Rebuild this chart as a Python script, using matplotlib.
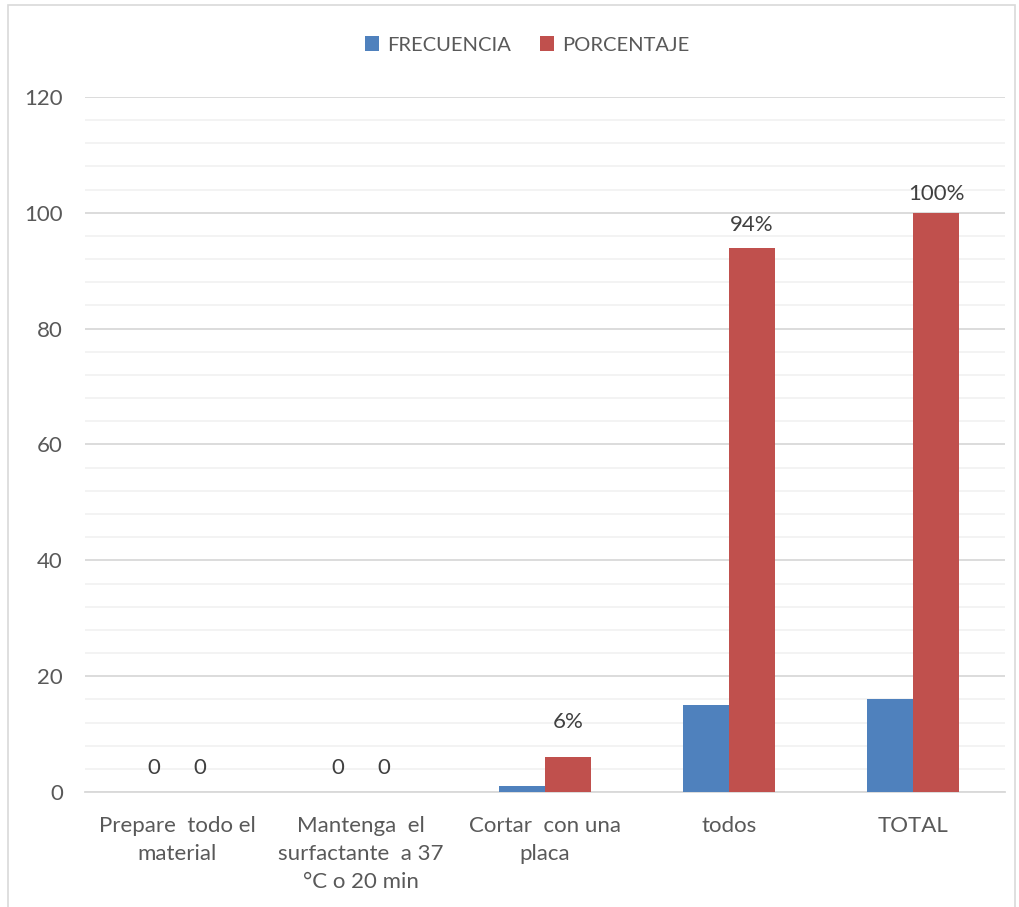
import matplotlib
matplotlib.use("Agg")
import matplotlib.pyplot as plt
from matplotlib.patches import Rectangle
from matplotlib.ticker import MultipleLocator

categories = ["Prepare  todo el\nmaterial",
              "Mantenga  el\nsurfactante  a 37\n°C o 20 min",
              "Cortar  con una\nplaca",
              "todos",
              "TOTAL"]
frecuencia = [0, 0, 1, 15, 16]
porcentaje = [0, 0, 6, 94, 100]
# labels shown above the bars (None = no label)
frec_labels = ["0", "0", None, None, None]
porc_labels = ["0", "0", "6%", "94%", "100%"]

plt.rcParams["font.family"] = ["Lato", "DejaVu Sans"]
TXT = "#595959"
LBL = "#404040"
BLUE = "#4f81bd"
RED = "#c0504d"
FS = 16

fig = plt.figure(figsize=(10.2, 9.07), dpi=100)
fig.patches.append(Rectangle((8 / 1020, -0.01), 1007 / 1020, 1 - 5 / 907 + 0.01,
                             transform=fig.transFigure, fill=False,
                             edgecolor="#d9d9d9", linewidth=1.2))

ax = fig.add_axes([85 / 1020, 1 - 792 / 907, 920 / 1020, 695 / 907])

x = list(range(len(categories)))
w = 0.25
xb = [i - w / 2 for i in x]
xr = [i + w / 2 for i in x]
ax.bar(xb, frecuencia, w, color=BLUE, label="FRECUENCIA", zorder=3)
ax.bar(xr, porcentaje, w, color=RED, label="PORCENTAJE", zorder=3)

for xi, v, lab in zip(xb, frecuencia, frec_labels):
    if lab is not None:
        ax.annotate(lab, (xi, v), xytext=(0, 10), textcoords="offset points",
                    ha="center", va="bottom", fontsize=FS, color=LBL)
offsets = [10, 10, 18, 9, 6]
for xi, v, lab, off in zip(xr, porcentaje, porc_labels, offsets):
    if lab is not None:
        ax.annotate(lab, (xi, v), xytext=(0, off), textcoords="offset points",
                    ha="center", va="bottom", fontsize=FS, color=LBL)

ax.set_xlim(-0.5, len(categories) - 0.5)
ax.set_ylim(0, 120)
ax.yaxis.set_major_locator(MultipleLocator(20))
ax.yaxis.set_minor_locator(MultipleLocator(4))
ax.grid(axis="y", which="major", color="#d9d9d9", linewidth=1.3, zorder=0)
ax.grid(axis="y", which="minor", color="#f2f2f2", linewidth=1.3, zorder=0)
ax.set_axisbelow(True)

for s in ["top", "right", "left"]:
    ax.spines[s].set_visible(False)
ax.spines["bottom"].set_color("#d9d9d9")
ax.spines["bottom"].set_linewidth(1.3)

ax.set_xticks(x)
ax.set_xticklabels(categories, fontsize=FS, color=TXT, linespacing=1.5)
ax.tick_params(axis="x", length=0, pad=17)
ax.tick_params(axis="y", which="both", length=0, pad=16, labelsize=FS, labelcolor=TXT)

leg = fig.legend(loc="center", bbox_to_anchor=(0.517, 1 - 45 / 907), ncol=2,
                 frameon=False, fontsize=14.5, handlelength=0.7, handleheight=0.7,
                 handletextpad=0.4, columnspacing=1.45)
for t in leg.get_texts():
    t.set_color(TXT)

fig.savefig("out.png", dpi=100)
